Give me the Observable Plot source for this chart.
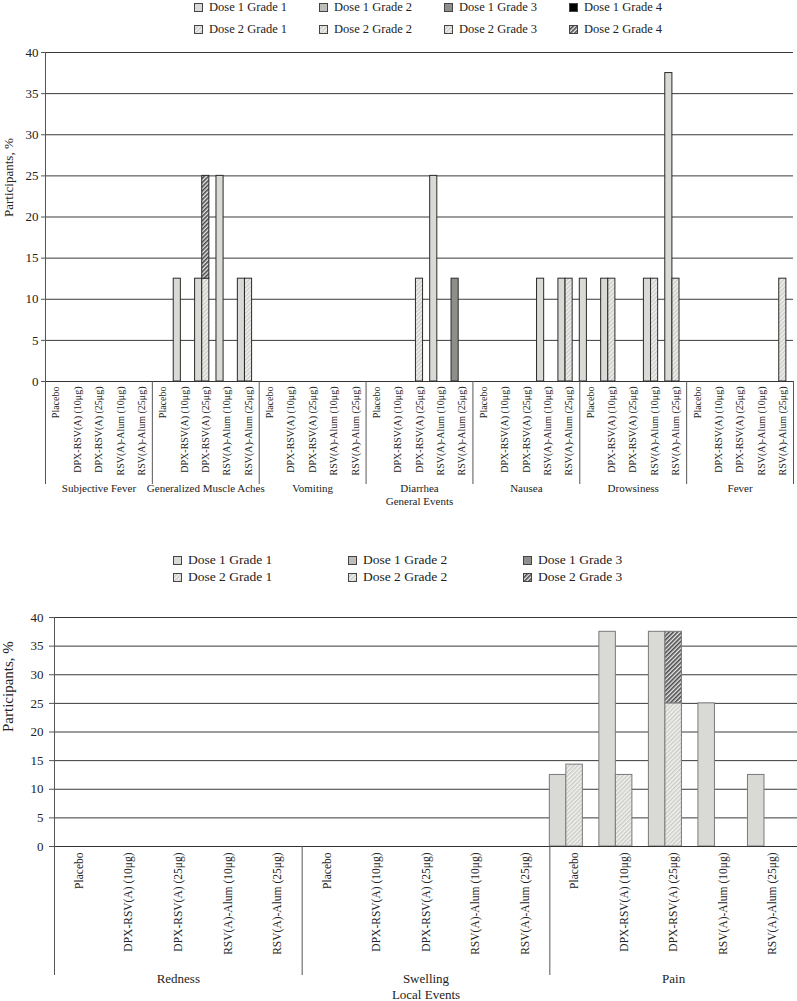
<!DOCTYPE html>
<html><head><meta charset="utf-8">
<script src="https://cdn.jsdelivr.net/npm/d3@7"></script>
<script src="https://cdn.jsdelivr.net/npm/@observablehq/plot@0.6"></script>
<style>
body{margin:0;background:#fff;font-family:"Liberation Serif",serif;}
#root{position:relative;width:797px;height:1001px;overflow:hidden;background:#fff;}
.leg{position:absolute;display:flex;align-items:center;white-space:nowrap;color:#222;height:16px;}
.leg svg{margin-right:6px;flex:none;}
.chart{position:absolute;left:0;}
</style></head>
<body><div id="root">
<svg width="0" height="0" style="position:absolute"><defs>
<pattern id="hl" patternUnits="userSpaceOnUse" width="3" height="3" patternTransform="rotate(45)"><rect width="3" height="3" fill="#f1f1ef"/><rect width="1.4" height="3" fill="#cacac6"/></pattern>
<pattern id="hd" patternUnits="userSpaceOnUse" width="3" height="3" patternTransform="rotate(45)"><rect width="3" height="3" fill="#e9e9e9"/><rect width="1.6" height="3" fill="#4a4a4a"/></pattern>
</defs></svg>
</div>
<script>
// ---------- data ----------
const groups = ["Placebo", "DPX-RSV(A) (10μg)", "DPX-RSV(A) (25μg)", "RSV(A)-Alum (10μg)", "RSV(A)-Alum (25μg)"];
const yTicks = [0, 5, 10, 15, 20, 25, 30, 35, 40];

// General events (top chart)
const generalEvents = ["Subjective Fever", "Generalized Muscle Aches", "Vomiting", "Diarrhea", "Nausea", "Drowsiness", "Fever"];
const generalSeries = ["Dose 1 Grade 1", "Dose 1 Grade 2", "Dose 1 Grade 3", "Dose 1 Grade 4", "Dose 2 Grade 1", "Dose 2 Grade 2", "Dose 2 Grade 3", "Dose 2 Grade 4"];
// values per event (7) x group (5)
const gen_d1g1 = [0,0,0,0,0, 0,12.5,12.5,25,12.5, 0,0,0,0,0, 0,0,0,25,0, 0,0,0,12.5,12.5, 12.5,12.5,0,12.5,37.5, 0,0,0,0,0];
const gen_d1g2 = [0,0,0,0,0, 0,0,0,0,0, 0,0,0,0,0, 0,0,0,0,0, 0,0,0,0,0, 0,0,0,0,0, 0,0,0,0,0];
const gen_d1g3 = [0,0,0,0,0, 0,0,0,0,0, 0,0,0,0,0, 0,0,0,0,12.5, 0,0,0,0,0, 0,0,0,0,0, 0,0,0,0,0];
const gen_d1g4 = [0,0,0,0,0, 0,0,0,0,0, 0,0,0,0,0, 0,0,0,0,0, 0,0,0,0,0, 0,0,0,0,0, 0,0,0,0,0];
const gen_d2g1 = [0,0,0,0,0, 0,0,12.5,0,12.5, 0,0,0,0,0, 0,0,12.5,0,0, 0,0,0,0,12.5, 0,12.5,0,12.5,12.5, 0,0,0,0,12.5];
const gen_d2g2 = [0,0,0,0,0, 0,0,0,0,0, 0,0,0,0,0, 0,0,0,0,0, 0,0,0,0,0, 0,0,0,0,0, 0,0,0,0,0];
const gen_d2g3 = [0,0,0,0,0, 0,0,0,0,0, 0,0,0,0,0, 0,0,0,0,0, 0,0,0,0,0, 0,0,0,0,0, 0,0,0,0,0];
const gen_d2g4 = [0,0,0,0,0, 0,0,12.5,0,0, 0,0,0,0,0, 0,0,0,0,0, 0,0,0,0,0, 0,0,0,0,0, 0,0,0,0,0];
const generalValues = [gen_d1g1, gen_d1g2, gen_d1g3, gen_d1g4, gen_d2g1, gen_d2g2, gen_d2g3, gen_d2g4];
const generalFills = ["#d9d9d5", "#bdbdb9", "#8e8e8b", "#000000", "url(#hl)", "url(#hl)", "url(#hl)", "url(#hd)"];

// Local events (bottom chart)
const localEvents = ["Redness", "Swelling", "Pain"];
const localSeries = ["Dose 1 Grade 1", "Dose 1 Grade 2", "Dose 1 Grade 3", "Dose 2 Grade 1", "Dose 2 Grade 2", "Dose 2 Grade 3"];
const loc_d1g1 = [0,0,0,0,0, 0,0,0,0,0, 12.5,37.5,37.5,25,12.5];
const loc_d1g2 = [0,0,0,0,0, 0,0,0,0,0, 0,0,0,0,0];
const loc_d1g3 = [0,0,0,0,0, 0,0,0,0,0, 0,0,0,0,0];
const loc_d2g1 = [0,0,0,0,0, 0,0,0,0,0, 14.3,12.5,25,0,0];
const loc_d2g2 = [0,0,0,0,0, 0,0,0,0,0, 0,0,0,0,0];
const loc_d2g3 = [0,0,0,0,0, 0,0,0,0,0, 0,0,12.5,0,0];
const localValues = [loc_d1g1, loc_d1g2, loc_d1g3, loc_d2g1, loc_d2g2, loc_d2g3];
const localFills = ["#d9d9d5", "#bdbdb9", "#8e8e8b", "url(#hl)", "url(#hl)", "url(#hd)"];

// ---------- drawing ----------
const root = document.getElementById("root");
const SLOTS = 3; // per group: dose 1, dose 2, gap

function legend(series, fills, x0, dx, cols, rowsY, fontSize) {
  series.forEach((s, i) => {
    const col = i % cols, row = Math.floor(i / cols);
    const div = document.createElement("div");
    div.className = "leg";
    div.style.left = (x0 + col * dx) + "px";
    div.style.top = (rowsY[row] - 8) + "px";
    div.style.fontSize = fontSize + "px";
    div.innerHTML = `<svg width="9" height="9"><rect x="0.5" y="0.5" width="8" height="8" fill="${fills[i]}" stroke="#444"/></svg><span>${s}</span>`;
    root.appendChild(div);
  });
}

function chart(o) {
  const nE = o.events.length, per = groups.length * SLOTS;
  const rows = [];
  o.series.forEach((s, si) => {
    const dose = s.startsWith("Dose 1") ? 0 : 1;
    o.values[si].forEach((v, i) => {
      if (v > 0) {
        const e = Math.floor(i / groups.length), g = i % groups.length;
        rows.push({slot: e * per + g * SLOTS + dose, series: s, value: v});
      }
    });
  });
  const groupLabels = [], eventLabels = [], bounds = [];
  o.events.forEach((ev, e) => {
    groups.forEach((g, gi) => groupLabels.push({pos: e * per + gi * SLOTS + SLOTS / 2, label: g}));
    eventLabels.push({pos: e * per + per / 2, label: ev});
    bounds.push(e * per);
  });
  bounds.push(nE * per);
  const plotH = o.height - o.marginTop - o.marginBottom;
  const p = Plot.plot({
    width: 797, height: o.height,
    marginTop: o.marginTop, marginBottom: o.marginBottom, marginLeft: o.marginLeft, marginRight: o.marginRight,
    style: {fontFamily: "Liberation Serif, serif", fontSize: "13px", color: "#222", background: "transparent", overflow: "visible"},
    x: {domain: [0, nE * per], axis: null},
    y: {domain: [0, 40], axis: null},
    color: {type: "ordinal", domain: o.series, range: o.fills, legend: false},
    marks: [
      Plot.gridY(yTicks, {stroke: "#3a3a3a", strokeOpacity: 1, strokeWidth: 1}),
      Plot.rectY(rows, {x1: d => d.slot, x2: d => d.slot + 1, y: "value", fill: "series", stroke: o.barStroke, strokeWidth: 1}),
      Plot.ruleY([0], {stroke: "#333"}),
      Plot.ruleX([0], {stroke: "#555"}),
      Plot.axisY({ticks: yTicks, tickSize: o.tickSize, tickPadding: o.tickPadding, fontSize: 13, label: null, stroke: "#555"}),
      Plot.ruleX(bounds, {x: d => d, y1: () => 0, y2: () => 0, insetBottom: -o.sepDrop, stroke: "#555"}),
      Plot.text(groupLabels, {x: "pos", y: () => 0, text: "label", rotate: -90, textAnchor: "end", dy: o.groupDy, fontSize: o.groupFont, fill: "#222"}),
      Plot.text(eventLabels, {x: "pos", y: () => 0, text: "label", dy: o.eventDy, fontSize: o.eventFont, fill: "#222"}),
      Plot.text([o.title], {x: () => nE * per / 2, y: () => 0, text: d => d, dy: o.titleDy, fontSize: o.eventFont, fill: "#222"}),
      Plot.text(["Participants, %"], {frameAnchor: "left", rotate: -90, dx: -o.yLabelDx, text: d => d, fontSize: o.yLabelFont, fill: "#222"})
    ]
  });
  p.classList.add("chart");
  p.style.top = o.top + "px";
  root.appendChild(p);
}

legend(generalSeries, generalFills, 194, 125, 4, [7, 29], 12.5);
chart({events: generalEvents, series: generalSeries, values: generalValues, fills: generalFills,
  top: 40, height: 470, marginTop: 12, marginBottom: 129, marginLeft: 45, marginRight: 4,
  barStroke: "#2a2a2a", tickSize: 4, tickPadding: 3, sepDrop: 103, groupDy: 5, groupFont: 10,
  eventDy: 107, eventFont: 11, title: "General Events", titleDy: 119.5, yLabelDx: 37, yLabelFont: 13});

legend(localSeries, localFills, 173, 175, 3, [560, 577], 13.5);
chart({events: localEvents, series: localSeries, values: localValues, fills: localFills,
  top: 600, height: 401, marginTop: 17, marginBottom: 155, marginLeft: 54, marginRight: 0,
  barStroke: "#7a7a7a", tickSize: 5, tickPadding: 6, sepDrop: 129, groupDy: 6, groupFont: 11.5,
  eventDy: 132, eventFont: 13, title: "Local Events", titleDy: 148, yLabelDx: 46, yLabelFont: 15});
</script>
</body></html>
